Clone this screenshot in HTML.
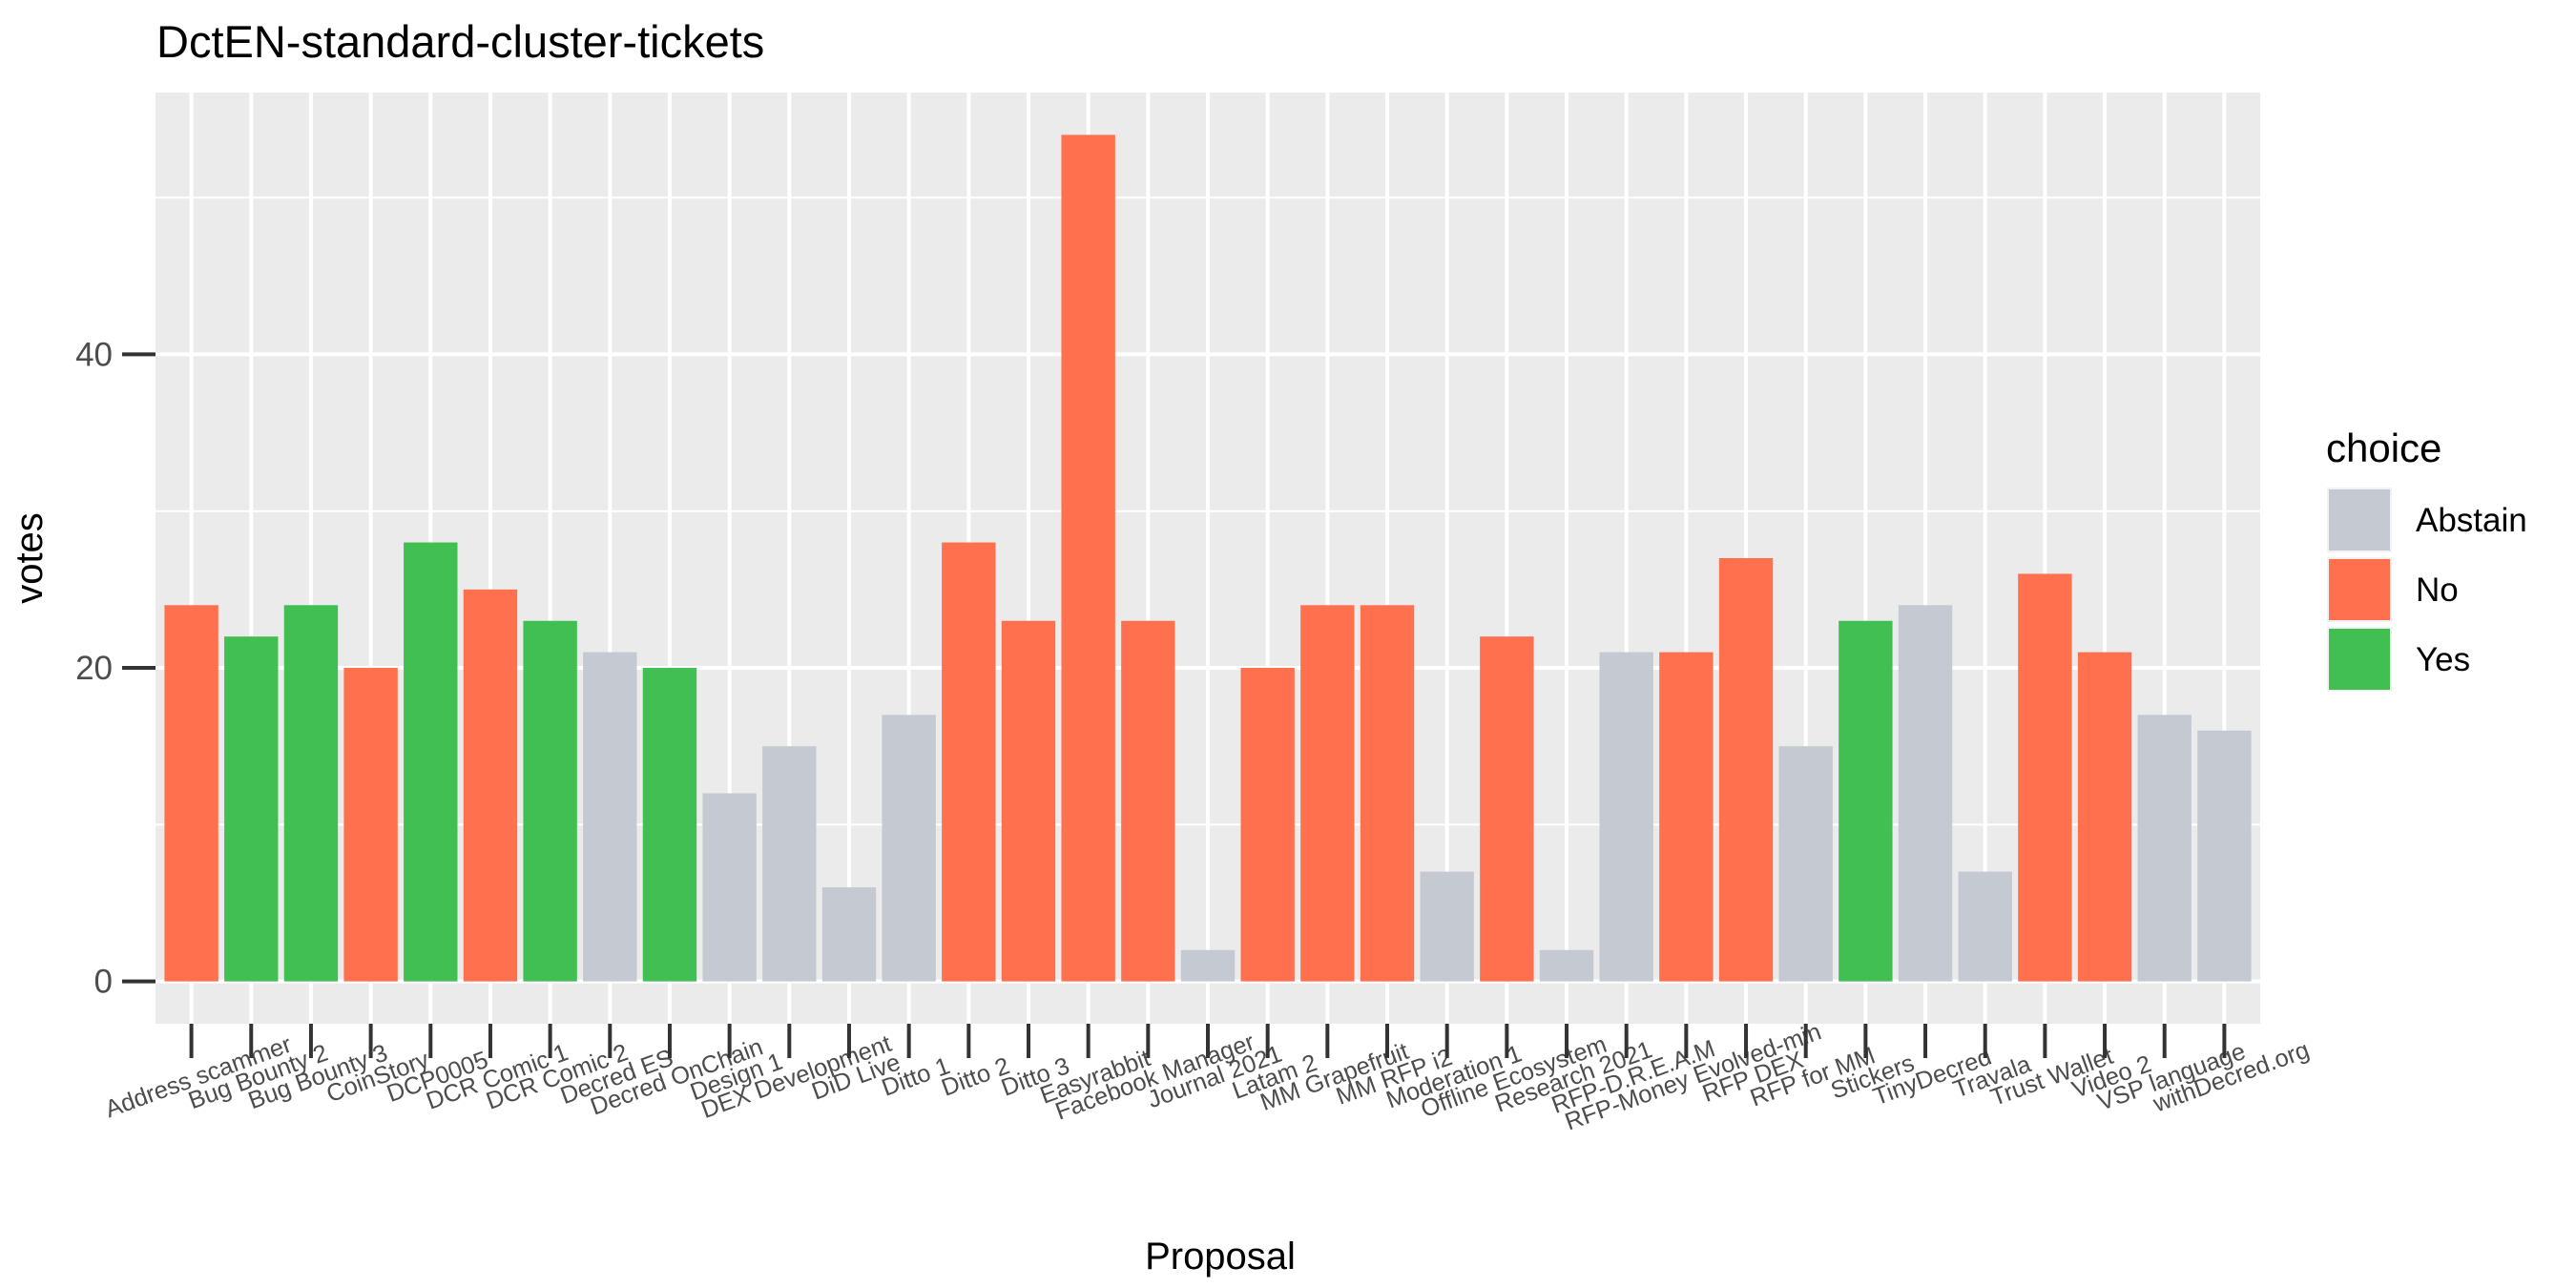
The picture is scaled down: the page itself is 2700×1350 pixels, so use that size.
<!DOCTYPE html>
<html><head><meta charset="utf-8"><style>
html,body{margin:0;padding:0;background:#fff;}
svg{display:block;font-family:"Liberation Sans",Arial,sans-serif;}
</style></head><body>
<svg id="chart" width="2700" height="1350" viewBox="0 0 2700 1350">
<text x="164" y="60" font-size="47" fill="#000">DctEN-standard-cluster-tickets</text>
<g id="panel"></g>
<text x="1279" y="1330" font-size="40" text-anchor="middle" fill="#000">Proposal</text>
<text transform="translate(44,585) rotate(-90)" font-size="40" text-anchor="middle" fill="#000">votes</text>
<g>
<text x="2438" y="484" font-size="42" fill="#000">choice</text>
<g><rect x="2440" y="512" width="66" height="66" fill="#C5CAD2" stroke="#f2f2f2" stroke-width="2"/><text x="2532" y="557" font-size="35" fill="#000">Abstain</text></g>
<g><rect x="2440" y="585" width="66" height="66" fill="#FF714E" stroke="#f2f2f2" stroke-width="2"/><text x="2532" y="630" font-size="35" fill="#000">No</text></g>
<g><rect x="2440" y="658" width="66" height="66" fill="#41BF53" stroke="#f2f2f2" stroke-width="2"/><text x="2532" y="703" font-size="35" fill="#000">Yes</text></g>
</g>
</svg>
<script>
const categories = ["Address scammer","Bug Bounty 2","Bug Bounty 3","CoinStory","DCP0005","DCR Comic 1","DCR Comic 2","Decred ES","Decred OnChain","Design 1","DEX Development","DiD Live","Ditto 1","Ditto 2","Ditto 3","Easyrabbit","Facebook Manager","Journal 2021","Latam 2","MM Grapefruit","MM RFP i2","Moderation 1","Offline Ecosystem","Research 2021","RFP-D.R.E.A.M","RFP-Money Evolved-min","RFP DEX","RFP for MM","Stickers","TinyDecred","Travala","Trust Wallet","Video 2","VSP language","withDecred.org"];
const votes = [24,22,24,20,28,25,23,21,20,12,15,6,17,28,23,54,23,2,20,24,24,7,22,2,21,21,27,15,23,24,7,26,21,17,16];
const choices = ["No","Yes","Yes","No","Yes","No","Yes","Abstain","Yes","Abstain","Abstain","Abstain","Abstain","No","No","No","No","Abstain","No","No","No","Abstain","No","Abstain","Abstain","No","No","Abstain","Yes","Abstain","Abstain","No","No","Abstain","Abstain"];
const yTicks = [0,20,40];
const yMinor = [10,30,50];

const NS="http://www.w3.org/2000/svg";
const svg=document.getElementById('chart');
const panel=document.getElementById('panel');
const colors={Abstain:"#C5CAD2",No:"#FF714E",Yes:"#41BF53"};
const PL=163,PR=2369,PT=97,PB=1073;
const n=categories.length;
const maxV=Math.max(...votes);
const yLo=-0.05*maxV, yHi=maxV*1.05;
function y(v){return PB-(v-yLo)/(yHi-yLo)*(PB-PT);}
const step=(PR-PL)/(n+0.2);
function x(i){return PL+step*(0.6+i);}
function mk(tag,attrs,parent){const e=document.createElementNS(NS,tag);for(const k in attrs)e.setAttribute(k,attrs[k]);(parent||svg).appendChild(e);return e;}

const bg=mk('rect',{x:PL,y:PT,width:PR-PL,height:PB-PT,fill:'#EBEBEB'},panel);


yMinor.forEach(v=>{if(v<=yHi){const l=mk('line',{x1:PL,x2:PR,y1:y(v),y2:y(v),stroke:'#fff','stroke-width':2},panel);

}});
yTicks.forEach(v=>{const l=mk('line',{x1:PL,x2:PR,y1:y(v),y2:y(v),stroke:'#fff','stroke-width':4},panel);


const t=mk('line',{x1:128,x2:PL,y1:y(v),y2:y(v),stroke:'#333','stroke-width':4});


const tx=mk('text',{x:118,y:y(v)+12,'font-size':35,'text-anchor':'end',fill:'#4D4D4D'});
tx.textContent=String(v);

});
categories.forEach((c,i)=>{const l=mk('line',{x1:x(i),x2:x(i),y1:PT,y2:PB,stroke:'#fff','stroke-width':4},panel);

});
const bw=step*0.9;
categories.forEach((c,i)=>{
const r=mk('rect',{x:x(i)-bw/2,y:y(votes[i]),width:bw,height:y(0)-y(votes[i]),fill:colors[choices[i]]},panel);


const t=mk('line',{x1:x(i),x2:x(i),y1:PB,y2:PB+36,stroke:'#333','stroke-width':4});


const cx=x(i)+7, cy=1128;
const tx=mk('text',{x:cx,y:cy+9,'font-size':25.5,'text-anchor':'middle',fill:'#4D4D4D',transform:`rotate(-20 ${cx} ${cy})`});
tx.textContent=c;


});
</script>
</body></html>
